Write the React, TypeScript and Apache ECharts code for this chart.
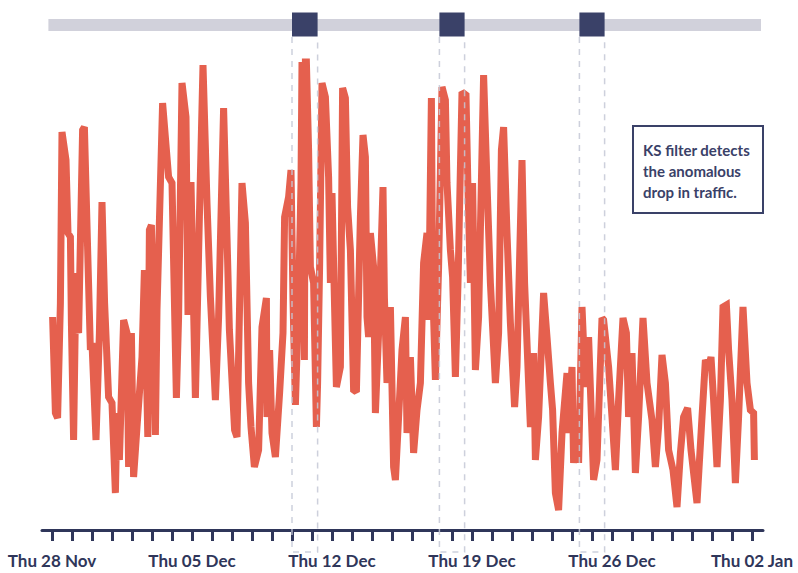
import React, { useEffect, useRef } from "react";
import * as echarts from "echarts";

// x position of each sample, in days after Thu 28 Nov 00:00
const sampleDay = [
  0.03, 0.17, 0.28, 0.42, 0.5, 0.7, 0.8, 0.92, 0.97, 1.08, 1.2, 1.25, 1.33, 1.53, 1.62, 1.8, 1.92, 2.0,
  2.2, 2.37, 2.5, 2.63, 2.83, 3.0, 3.17, 3.25, 3.37, 3.58, 3.75, 3.83, 3.97, 4.08, 4.25, 4.5, 4.62, 4.79,
  4.87, 4.97, 5.07, 5.17, 5.25, 5.53, 5.83, 6.0, 6.22, 6.33, 6.5, 6.7, 6.8, 6.95, 7.17, 7.37, 7.55, 7.75,
  7.92, 8.17, 8.33, 8.58, 8.75, 8.87, 9.13, 9.25, 9.5, 9.67, 9.83, 9.95, 10.12, 10.33, 10.5, 10.72, 10.75,
  10.88, 11.0, 11.17, 11.38, 11.55, 11.63, 11.83, 11.95, 12.05, 12.17, 12.33, 12.45, 12.5, 12.57, 12.62,
  12.67, 12.72, 12.83, 12.92, 13.08, 13.22, 13.28, 13.38, 13.5, 13.67, 13.83, 13.92, 14.0, 14.22, 14.42,
  14.53, 14.67, 14.78, 14.92, 15.08, 15.22, 15.42, 15.55, 15.67, 15.75, 15.83, 15.92, 16.08, 16.17, 16.33,
  16.55, 16.62, 16.75, 16.92, 17.08, 17.17, 17.33, 17.5, 17.67, 17.75, 17.92, 18.08, 18.25, 18.42, 18.58,
  18.75, 18.83, 18.97, 19.03, 19.17, 19.33, 19.5, 19.67, 19.75, 19.92, 20.03, 20.17, 20.3, 20.5, 20.7,
  20.8, 20.92, 21.03, 21.17, 21.33, 21.58, 21.75, 21.92, 22.17, 22.33, 22.47, 22.58, 22.75, 22.92, 23.13,
  23.25, 23.5, 23.63, 23.83, 23.92, 24.08, 24.17, 24.33, 24.58, 24.75, 24.92, 25.03, 25.17, 25.33, 25.5,
  25.75, 25.83, 26.0, 26.08, 26.25, 26.33, 26.5, 26.67, 26.83, 27.08, 27.25, 27.5, 27.58, 27.83, 28.0,
  28.17, 28.33, 28.55, 28.72, 28.83, 29.0, 29.17, 29.33, 29.55, 29.75, 30.0, 30.17, 30.33, 30.5, 30.67,
  30.83, 31.05, 31.25, 31.42, 31.58, 31.78, 31.95, 32.25, 32.5, 32.67, 32.83, 32.95, 33.08, 33.25, 33.42,
  33.55, 33.72, 33.83, 34.0, 34.17, 34.33, 34.55, 34.75, 34.92, 35.08, 35.12,
];

// traffic level of each sample
const traffic = [
  213, 117, 112, 227, 398, 370, 297, 293, 207, 90, 257, 203, 197, 400, 403, 267, 180, 187,
  90, 197, 328, 227, 133, 127, 37, 117, 70, 210, 197, 63, 197, 53, 103, 173, 260, 93,
  300, 305, 200, 95, 220, 427, 353, 347, 132, 213, 447, 413, 215, 348, 132, 313, 465, 327,
  233, 130, 213, 422, 293, 200, 100, 93, 347, 307, 147, 103, 63, 80, 203, 232, 113,
  180, 97, 73, 137, 197, 313, 333, 360, 230, 125, 230, 347, 468, 465, 170,
  468, 468, 380, 263, 247, 103, 147, 263, 447, 433, 353, 247, 337, 143, 163,
  442, 432, 323, 280, 140, 138, 313, 395, 373, 213, 193, 297, 263, 117, 197,
  343, 233, 147, 223, 63, 50, 113, 180, 213, 97, 173, 77, 120, 147, 267,
  297, 210, 432, 247, 150, 263, 443, 430, 347, 280, 253, 153, 247, 438, 435,
  340, 247, 347, 160, 213, 455, 347, 247, 147, 197, 380, 403, 297, 207, 123,
  163, 370, 247, 147, 103, 177, 70, 113, 237, 193, 147, 120, 37, 20, 97,
  157, 97, 163, 67, 113, 67, 223, 143, 193, 50, 70, 212, 210, 163, 113,
  60, 130, 212, 197, 113, 177, 57, 113, 212, 147, 110, 63, 103, 175, 147,
  80, 60, 23, 77, 113, 122, 80, 27, 113, 170, 163, 173, 130, 63, 130,
  223, 225, 180, 130, 47, 113, 223, 147, 120, 117, 70,
];

const tickDays = [
  0, 1, 2, 3, 4, 5, 6, 7, 8, 9, 10, 11, 12, 13, 14, 15, 16, 17,
  18, 19, 20, 21, 22, 23, 24, 25, 26, 27, 28, 29, 30, 31, 32, 33, 34, 35,
];
const labelDays = [0, 7, 14, 21, 28, 35];
const labelTexts = ["Thu 28 Nov", "Thu 05 Dec", "Thu 12 Dec", "Thu 19 Dec", "Thu 26 Dec", "Thu 02 Jan"];

// KS filter detection windows (days)
const detectStart = [12.0, 19.37, 26.37];
const detectEnd = [13.28, 20.63, 27.63];

// extent of the timeline bar (days)
const timelineStart = -0.18;
const timelineEnd = 35.45;

const noteLines = ["KS filter detects", "the anomalous", "drop in traffic."];

const NAVY = "#2F365A";
const SQUARE = "#3A4168";
const RED = "#E5604E";

export default function App() {
  const ref = useRef<HTMLDivElement>(null);

  useEffect(() => {
    if (!ref.current) return;
    const chart = echarts.init(ref.current, undefined, { renderer: "svg" });
    chart.setOption({
      animation: false,
      backgroundColor: "#ffffff",
      grid: { left: 42, right: 35, top: 40, bottom: 43 },
      xAxis: {
        type: "value",
        min: -0.5,
        max: 35.55,
        axisLine: { show: true, onZero: false, lineStyle: { color: NAVY, width: 3 } },
        axisTick: {
          show: true,
          customValues: tickDays,
          length: 11,
          lineStyle: { color: NAVY, width: 3 },
        },
        axisLabel: {
          customValues: labelDays,
          formatter: (v: number) => {
            const i = labelDays.indexOf(Math.round(v));
            return i >= 0 ? labelTexts[i] : "";
          },
          fontFamily: "Lato",
          fontWeight: "bold",
          fontSize: 17,
          color: NAVY,
          margin: 22,
        },
        splitLine: { show: false },
      },
      yAxis: { type: "value", min: 0, max: 490, show: false },
      series: [
        {
          type: "line",
          data: sampleDay.map((d, i) => [d, traffic[i]]),
          symbol: "none",
          silent: true,
          lineStyle: { color: RED, width: 7, join: "miter", miterLimit: 2 },
          z: 2,
        },
      ],
    });

    const px = (d: number) => chart.convertToPixel({ xAxisIndex: 0 }, d) as number;
    const graphics: any[] = [];
    const tl0 = px(timelineStart);
    const tl1 = px(timelineEnd);
    graphics.push({
      type: "rect",
      shape: { x: tl0, y: 19, width: tl1 - tl0, height: 12 },
      style: { fill: "#D1D1DB" },
      z: 10,
    });
    detectStart.forEach((s, i) => {
      const x0 = px(s);
      const x1 = px(detectEnd[i]);
      graphics.push({
        type: "polyline",
        shape: { points: [[x0, 37], [x0, 552], [x1, 552], [x1, 37]] },
        style: { stroke: "rgba(196,200,214,0.85)", lineWidth: 1.5, lineDash: [6, 6], fill: null },
        z: 20,
        silent: true,
      });
      graphics.push({
        type: "rect",
        shape: { x: x0, y: 12.5, width: x1 - x0, height: 24 },
        style: { fill: SQUARE },
        z: 21,
      });
    });
    graphics.push({
      type: "rect",
      shape: { x: 633, y: 126, width: 130, height: 87 },
      style: { fill: "#ffffff", stroke: SQUARE, lineWidth: 2 },
      z: 30,
    });
    graphics.push({
      type: "text",
      x: 643,
      y: 139.5,
      style: {
        text: noteLines.join("\n"),
        fill: SQUARE,
        font: "bold 15px Lato",
        lineHeight: 21,
        verticalAlign: "top",
        align: "left",
      },
      z: 31,
    });
    chart.setOption({ graphic: graphics });

    return () => chart.dispose();
  }, []);

  return <div ref={ref} style={{ width: 798, height: 573, position: "absolute", left: 0, top: 0 }} />;
}
